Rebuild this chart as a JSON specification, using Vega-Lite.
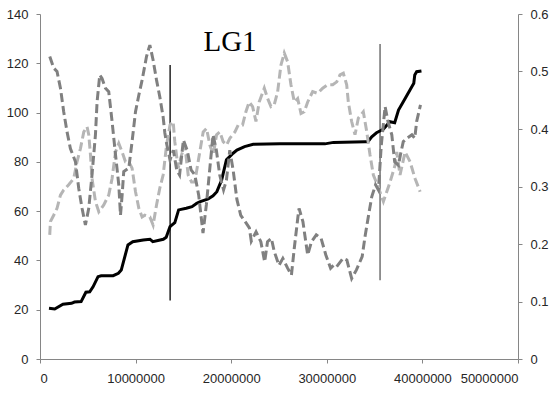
{
  "$schema": "https://vega.github.io/schema/vega-lite/v6.json",
  "width": 478,
  "height": 345,
  "autosize": "none",
  "padding": {"left": 40, "top": 14, "right": 37, "bottom": 44},
  "title": {"text": "LG1", "font": "Liberation Serif", "fontSize": 29, "fontWeight": "normal", "color": "#000000", "anchor": "middle", "dx": -49, "dy": 72, "offset": 0, "baseline": "alphabetic"},
  "config": {
    "view": {"stroke": null},
    "axis": {"grid": false, "domainColor": "#868686", "tickColor": "#868686", "tickSize": 4, "labelFont": "Liberation Sans", "labelFontSize": 13, "labelColor": "#262626", "title": null, "domainWidth": 1, "tickWidth": 1}
  },
  "datasets": {
    "cum": [
      {"pos": 940000, "v": 20.6}, {"pos": 1540000, "v": 20.3}, {"pos": 2400000, "v": 22.2}, {"pos": 3300000, "v": 22.6}, {"pos": 3600000, "v": 23.1}, {"pos": 4300000, "v": 23.3}, {"pos": 4800000, "v": 27.1}, {"pos": 5200000, "v": 27.3}, {"pos": 5550000, "v": 29.3}, {"pos": 6070000, "v": 33.4}, {"pos": 6400000, "v": 33.8}, {"pos": 7650000, "v": 33.8}, {"pos": 8200000, "v": 34.8}, {"pos": 8500000, "v": 36.1}, {"pos": 9200000, "v": 46.3}, {"pos": 9700000, "v": 47.6}, {"pos": 10800000, "v": 48.3}, {"pos": 11500000, "v": 48.6}, {"pos": 11800000, "v": 47.6}, {"pos": 12900000, "v": 48.6}, {"pos": 13200000, "v": 49.4}, {"pos": 13600000, "v": 53.7}, {"pos": 14100000, "v": 55.3}, {"pos": 14500000, "v": 60.5}, {"pos": 15300000, "v": 61.2}, {"pos": 15900000, "v": 61.8}, {"pos": 16400000, "v": 63.2}, {"pos": 16700000, "v": 63.8}, {"pos": 17600000, "v": 65.0}, {"pos": 18100000, "v": 66.2}, {"pos": 18500000, "v": 67.9}, {"pos": 19000000, "v": 72.6}, {"pos": 19500000, "v": 80.8}, {"pos": 20200000, "v": 83.5}, {"pos": 20600000, "v": 84.8}, {"pos": 21400000, "v": 86.2}, {"pos": 22300000, "v": 87.1}, {"pos": 25100000, "v": 87.3}, {"pos": 29800000, "v": 87.3}, {"pos": 30700000, "v": 87.9}, {"pos": 34000000, "v": 88.2}, {"pos": 34300000, "v": 88.2}, {"pos": 34700000, "v": 90.2}, {"pos": 35200000, "v": 91.8}, {"pos": 35900000, "v": 93.2}, {"pos": 36600000, "v": 96.3}, {"pos": 37100000, "v": 95.9}, {"pos": 37500000, "v": 101}, {"pos": 38000000, "v": 104.4}, {"pos": 38700000, "v": 109.2}, {"pos": 39100000, "v": 111.9}, {"pos": 39200000, "v": 115.3}, {"pos": 39400000, "v": 116.6}, {"pos": 39900000, "v": 116.9}
    ],
    "dark": [
      {"pos": 1020000, "r": 0.526}, {"pos": 1430000, "r": 0.506}, {"pos": 1780000, "r": 0.5}, {"pos": 2140000, "r": 0.471}, {"pos": 2480000, "r": 0.43}, {"pos": 2830000, "r": 0.395}, {"pos": 3180000, "r": 0.366}, {"pos": 3710000, "r": 0.343}, {"pos": 4050000, "r": 0.297}, {"pos": 4400000, "r": 0.262}, {"pos": 4750000, "r": 0.233}, {"pos": 5100000, "r": 0.262}, {"pos": 5440000, "r": 0.32}, {"pos": 5800000, "r": 0.39}, {"pos": 5970000, "r": 0.447}, {"pos": 6250000, "r": 0.494}, {"pos": 6490000, "r": 0.488}, {"pos": 6850000, "r": 0.471}, {"pos": 7190000, "r": 0.465}, {"pos": 7540000, "r": 0.413}, {"pos": 7900000, "r": 0.355}, {"pos": 8240000, "r": 0.303}, {"pos": 8420000, "r": 0.25}, {"pos": 8590000, "r": 0.285}, {"pos": 8760000, "r": 0.326}, {"pos": 9290000, "r": 0.332}, {"pos": 9630000, "r": 0.378}, {"pos": 9990000, "r": 0.43}, {"pos": 10340000, "r": 0.459}, {"pos": 10680000, "r": 0.485}, {"pos": 11140000, "r": 0.526}, {"pos": 11490000, "r": 0.546}, {"pos": 11830000, "r": 0.52}, {"pos": 12190000, "r": 0.485}, {"pos": 12530000, "r": 0.456}, {"pos": 12880000, "r": 0.421}, {"pos": 13060000, "r": 0.393}, {"pos": 13240000, "r": 0.375}, {"pos": 13600000, "r": 0.346}, {"pos": 13950000, "r": 0.363}, {"pos": 14300000, "r": 0.329}, {"pos": 14600000, "r": 0.32}, {"pos": 15000000, "r": 0.381}, {"pos": 15400000, "r": 0.363}, {"pos": 15800000, "r": 0.329}, {"pos": 16200000, "r": 0.32}, {"pos": 16600000, "r": 0.285}, {"pos": 17050000, "r": 0.219}, {"pos": 17400000, "r": 0.268}, {"pos": 17750000, "r": 0.329}, {"pos": 18100000, "r": 0.39}, {"pos": 18450000, "r": 0.363}, {"pos": 18800000, "r": 0.32}, {"pos": 19200000, "r": 0.294}, {"pos": 19500000, "r": 0.311}, {"pos": 19850000, "r": 0.363}, {"pos": 20200000, "r": 0.329}, {"pos": 20600000, "r": 0.277}, {"pos": 21000000, "r": 0.25}, {"pos": 21500000, "r": 0.238}, {"pos": 21900000, "r": 0.228}, {"pos": 22100000, "r": 0.205}, {"pos": 22600000, "r": 0.221}, {"pos": 23100000, "r": 0.204}, {"pos": 23500000, "r": 0.169}, {"pos": 23800000, "r": 0.204}, {"pos": 24200000, "r": 0.21}, {"pos": 24500000, "r": 0.187}, {"pos": 25000000, "r": 0.163}, {"pos": 25400000, "r": 0.175}, {"pos": 25900000, "r": 0.158}, {"pos": 26300000, "r": 0.146}, {"pos": 26600000, "r": 0.193}, {"pos": 27000000, "r": 0.25}, {"pos": 27100000, "r": 0.262}, {"pos": 27500000, "r": 0.239}, {"pos": 27800000, "r": 0.204}, {"pos": 28000000, "r": 0.181}, {"pos": 28400000, "r": 0.204}, {"pos": 28900000, "r": 0.216}, {"pos": 29400000, "r": 0.21}, {"pos": 29900000, "r": 0.181}, {"pos": 30400000, "r": 0.158}, {"pos": 30700000, "r": 0.163}, {"pos": 31000000, "r": 0.16}, {"pos": 31700000, "r": 0.175}, {"pos": 32100000, "r": 0.172}, {"pos": 32600000, "r": 0.14}, {"pos": 33100000, "r": 0.155}, {"pos": 33700000, "r": 0.178}, {"pos": 34000000, "r": 0.213}, {"pos": 34400000, "r": 0.253}, {"pos": 34700000, "r": 0.282}, {"pos": 35100000, "r": 0.303}, {"pos": 35400000, "r": 0.294}, {"pos": 35700000, "r": 0.372}, {"pos": 36100000, "r": 0.439}, {"pos": 36400000, "r": 0.413}, {"pos": 36800000, "r": 0.39}, {"pos": 37100000, "r": 0.343}, {"pos": 37500000, "r": 0.337}, {"pos": 37700000, "r": 0.355}, {"pos": 38000000, "r": 0.378}, {"pos": 38400000, "r": 0.384}, {"pos": 38900000, "r": 0.39}, {"pos": 39200000, "r": 0.384}, {"pos": 39400000, "r": 0.413}, {"pos": 39800000, "r": 0.442}
    ],
    "light": [
      {"pos": 1020000, "r": 0.216}, {"pos": 1090000, "r": 0.239}, {"pos": 1430000, "r": 0.25}, {"pos": 1780000, "r": 0.262}, {"pos": 2140000, "r": 0.285}, {"pos": 2480000, "r": 0.294}, {"pos": 3000000, "r": 0.303}, {"pos": 3530000, "r": 0.314}, {"pos": 3870000, "r": 0.343}, {"pos": 4230000, "r": 0.366}, {"pos": 4580000, "r": 0.395}, {"pos": 4920000, "r": 0.404}, {"pos": 5100000, "r": 0.39}, {"pos": 5280000, "r": 0.355}, {"pos": 5440000, "r": 0.314}, {"pos": 5800000, "r": 0.274}, {"pos": 6150000, "r": 0.256}, {"pos": 6670000, "r": 0.268}, {"pos": 7190000, "r": 0.285}, {"pos": 7540000, "r": 0.314}, {"pos": 7900000, "r": 0.36}, {"pos": 8240000, "r": 0.375}, {"pos": 8590000, "r": 0.36}, {"pos": 8940000, "r": 0.343}, {"pos": 9290000, "r": 0.343}, {"pos": 9630000, "r": 0.332}, {"pos": 9990000, "r": 0.291}, {"pos": 10340000, "r": 0.262}, {"pos": 10680000, "r": 0.247}, {"pos": 10960000, "r": 0.25}, {"pos": 11490000, "r": 0.247}, {"pos": 11830000, "r": 0.233}, {"pos": 12190000, "r": 0.268}, {"pos": 12530000, "r": 0.297}, {"pos": 12880000, "r": 0.32}, {"pos": 13240000, "r": 0.372}, {"pos": 13600000, "r": 0.407}, {"pos": 13930000, "r": 0.413}, {"pos": 14100000, "r": 0.378}, {"pos": 14450000, "r": 0.332}, {"pos": 14810000, "r": 0.355}, {"pos": 15150000, "r": 0.372}, {"pos": 15500000, "r": 0.32}, {"pos": 15850000, "r": 0.308}, {"pos": 16200000, "r": 0.308}, {"pos": 16540000, "r": 0.343}, {"pos": 17070000, "r": 0.395}, {"pos": 17420000, "r": 0.401}, {"pos": 17770000, "r": 0.372}, {"pos": 18120000, "r": 0.355}, {"pos": 18470000, "r": 0.39}, {"pos": 18820000, "r": 0.395}, {"pos": 19160000, "r": 0.378}, {"pos": 19520000, "r": 0.372}, {"pos": 19860000, "r": 0.384}, {"pos": 20390000, "r": 0.395}, {"pos": 20730000, "r": 0.407}, {"pos": 21190000, "r": 0.407}, {"pos": 21540000, "r": 0.43}, {"pos": 21880000, "r": 0.447}, {"pos": 22240000, "r": 0.439}, {"pos": 22590000, "r": 0.413}, {"pos": 22930000, "r": 0.447}, {"pos": 23460000, "r": 0.471}, {"pos": 23810000, "r": 0.453}, {"pos": 24160000, "r": 0.439}, {"pos": 24500000, "r": 0.442}, {"pos": 24860000, "r": 0.465}, {"pos": 25200000, "r": 0.511}, {"pos": 25550000, "r": 0.532}, {"pos": 25900000, "r": 0.517}, {"pos": 26250000, "r": 0.477}, {"pos": 26600000, "r": 0.447}, {"pos": 26950000, "r": 0.453}, {"pos": 27300000, "r": 0.427}, {"pos": 27640000, "r": 0.43}, {"pos": 28000000, "r": 0.447}, {"pos": 28520000, "r": 0.465}, {"pos": 29050000, "r": 0.462}, {"pos": 29570000, "r": 0.471}, {"pos": 30100000, "r": 0.477}, {"pos": 30620000, "r": 0.477}, {"pos": 31040000, "r": 0.482}, {"pos": 31380000, "r": 0.494}, {"pos": 31730000, "r": 0.497}, {"pos": 32080000, "r": 0.477}, {"pos": 32250000, "r": 0.447}, {"pos": 32600000, "r": 0.413}, {"pos": 32950000, "r": 0.39}, {"pos": 33300000, "r": 0.419}, {"pos": 33820000, "r": 0.43}, {"pos": 34180000, "r": 0.395}, {"pos": 34520000, "r": 0.355}, {"pos": 34870000, "r": 0.32}, {"pos": 35360000, "r": 0.3}, {"pos": 35920000, "r": 0.274}, {"pos": 36620000, "r": 0.308}, {"pos": 37140000, "r": 0.337}, {"pos": 37320000, "r": 0.36}, {"pos": 37660000, "r": 0.32}, {"pos": 38190000, "r": 0.36}, {"pos": 38710000, "r": 0.343}, {"pos": 39230000, "r": 0.314}, {"pos": 39760000, "r": 0.291}
    ],
    "rules": [
      {"pos": 13610000, "top": 119.3, "bottom": 23.7, "k": "a"},
      {"pos": 35570000, "top": 127.8, "bottom": 32, "k": "b"}
    ]
  },
  "encoding": {
    "x": {"field": "pos", "type": "quantitative", "scale": {"domain": [0, 50000000], "nice": false, "zero": false}, "axis": {"values": [0, 10000000, 20000000, 30000000, 40000000, 50000000], "format": "d", "labelPadding": 9}}
  },
  "layer": [
    {
      "layer": [
        {
          "data": {"name": "rules"},
          "mark": {"type": "rule", "strokeWidth": 1.3},
          "encoding": {
            "y": {"field": "top", "type": "quantitative", "scale": {"domain": [0, 140], "nice": false}, "axis": {"orient": "left", "values": [0, 20, 40, 60, 80, 100, 120, 140], "labelPadding": 8}},
            "y2": {"field": "bottom"},
            "color": {"field": "k", "type": "nominal", "scale": {"domain": ["a", "b"], "range": ["#000000", "#5a5a5a"]}, "legend": null}
          }
        },
        {
          "data": {"name": "cum"},
          "mark": {"type": "line", "color": "#000000", "strokeWidth": 3},
          "encoding": {
            "y": {"field": "v", "type": "quantitative"}
          }
        }
      ]
    },
    {
      "layer": [
        {
          "data": {"name": "light"},
          "mark": {"type": "line", "color": "#b5b5b5", "strokeWidth": 3, "strokeDash": [9, 4]},
          "encoding": {
            "y": {"field": "r", "type": "quantitative", "scale": {"domain": [0, 0.6], "nice": false}, "axis": {"orient": "right", "values": [0, 0.1, 0.2, 0.3, 0.4, 0.5, 0.6], "format": "~g", "labelPadding": 8}}
          }
        },
        {
          "data": {"name": "dark"},
          "mark": {"type": "line", "color": "#808080", "strokeWidth": 3, "strokeDash": [9, 4]},
          "encoding": {
            "y": {"field": "r", "type": "quantitative"}
          }
        }
      ]
    }
  ],
  "resolve": {"scale": {"y": "independent"}}
}
